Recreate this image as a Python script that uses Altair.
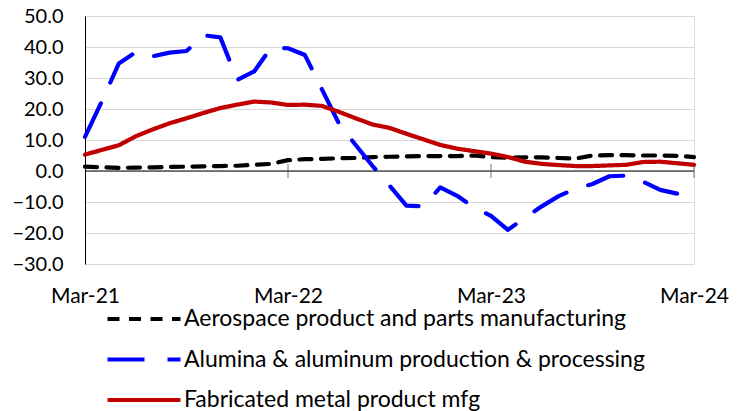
import json
import altair as alt
import pandas as pd

# ---- data -----------------------------------------------------------------
months = pd.date_range("2021-03-01", "2024-03-01", freq="MS").strftime("%b-%y").tolist()
tick_labels = ["Mar-21", "Mar-22", "Mar-23", "Mar-24"]
series_names = [
    "Aerospace product and parts manufacturing",
    "Alumina & aluminum production & processing",
    "Fabricated metal product mfg",
]
aerospace = [1.4, 1.2, 1.0, 1.1, 1.2, 1.3, 1.4, 1.5, 1.6, 1.7, 2.0, 2.3, 3.5, 3.8, 3.9,
             4.1, 4.2, 4.5, 4.6, 4.7, 4.8, 4.8, 4.8, 5.0, 4.5, 4.3, 4.4, 4.4, 4.2, 4.0,
             5.0, 5.1, 5.1, 5.0, 5.0, 4.9, 4.5]
alumina = [11.0, 22.5, 34.7, 38.3, 37.0, 38.2, 38.7, 43.8, 43.1, 29.4, 32.1, 39.8, 39.6,
           37.4, 26.4, 15.4, 8.4, 1.6, -4.7, -11.2, -11.4, -5.3, -8.0, -11.8, -14.5,
           -19.0, -15.1, -11.4, -8.1, -5.7, -4.2, -1.7, -1.5, -3.5, -6.1, -7.3]
fabricated = [5.3, 6.8, 8.3, 11.2, 13.4, 15.4, 17.0, 18.7, 20.3, 21.4, 22.4, 22.1, 21.3,
              21.4, 21.0, 19.1, 17.0, 15.0, 13.9, 12.0, 10.2, 8.4, 7.2, 6.4, 5.6, 4.5,
              3.0, 2.3, 1.9, 1.6, 1.6, 1.8, 2.0, 2.9, 3.0, 2.5, 2.0]
colors = ["#000000", "#0000FF", "#C00000"]
dashes = [[12, 9.5], [37, 23], [1, 0]]

rows = []
for name, vals in zip(series_names, [aerospace, alumina, fabricated]):
    for i, v in enumerate(vals):
        rows.append({"idx": i, "month": months[i], "series": name, "value": v})
df = pd.DataFrame(rows)

tick_idx = [months.index(t) for t in tick_labels]
ticks_df = pd.DataFrame({"idx": tick_idx[1:], "zero": [0] * (len(tick_idx) - 1)})
zero_df = pd.DataFrame({"zero": [0]})

FONT = "Lato"
label_expr = json.dumps(tick_labels) + "[round(datum.value / 12)]"

x_scale = alt.Scale(domain=[0, len(months) - 1], nice=False, zero=False)
y_scale = alt.Scale(domain=[-30, 50], nice=False, zero=False)

x_axis = alt.Axis(values=tick_idx, labelExpr=label_expr, title=None, domain=False,
                  ticks=False, grid=False, labelPadding=21, labelFontSize=21,
                  labelFont=FONT, labelColor="#000000", labelFlush=False,
                  labelOverlap=False)
y_axis = alt.Axis(values=list(range(-30, 51, 10)), format=".1f", title=None,
                  ticks=False, domainColor="#000000", domainWidth=1,
                  gridColor="#d9d9d9", gridWidth=1, labelPadding=22,
                  labelFontSize=20, labelFont=FONT, labelColor="#000000",
                  labelOverlap=False, labelFlush=False)

SYM = 25          # legend symbol "size" in px (square side)
HALF = 73 / 2 / (SYM / 2)   # half line length, in custom-path units

lines = alt.Chart(df).mark_line(strokeWidth=4.2, strokeCap="round", strokeJoin="round").encode(
    x=alt.X("idx:Q", scale=x_scale, axis=x_axis),
    y=alt.Y("value:Q", scale=y_scale, axis=y_axis),
    color=alt.Color("series:N", scale=alt.Scale(domain=series_names, range=colors),
                    legend=alt.Legend(title=None, orient="none", legendX=20, legendY=288,
                                      direction="vertical",
                                      symbolType=f"M-{HALF:.3f},0H{HALF:.3f}",
                                      symbolSize=SYM * SYM, symbolStrokeWidth=4.2,
                                      symbolOffset=73 / 2 - SYM / 2,
                                      labelFontSize=23, labelFont=FONT, labelColor="#000000",
                                      labelOffset=25, rowPadding=13.5, padding=0,
                                      labelLimit=600)),
    strokeDash=alt.StrokeDash("series:N", scale=alt.Scale(domain=series_names, range=dashes),
                              legend=alt.Legend(title=None)),
    order=alt.Order("idx:Q"),
)

zero_line = alt.Chart(zero_df).mark_rule(color="#000000", strokeWidth=1).encode(
    y=alt.Y("zero:Q", scale=y_scale, axis=y_axis),
)

tick_marks = alt.Chart(ticks_df).mark_tick(orient="vertical", size=14, thickness=1,
                                           color="#404040").encode(
    x=alt.X("idx:Q", scale=x_scale, axis=x_axis),
    y=alt.Y("zero:Q", scale=y_scale, axis=y_axis),
)

chart = alt.layer(zero_line, tick_marks, lines).properties(
    width=609, height=248,
    padding={"left": 77, "top": 8, "right": 38, "bottom": 147},
    autosize=alt.AutoSizeParams(type="none"),
).configure_view(stroke="#d9d9d9", strokeWidth=1).configure(background="white")

chart.save("out.html", embed_options={"renderer": "svg", "actions": False})
